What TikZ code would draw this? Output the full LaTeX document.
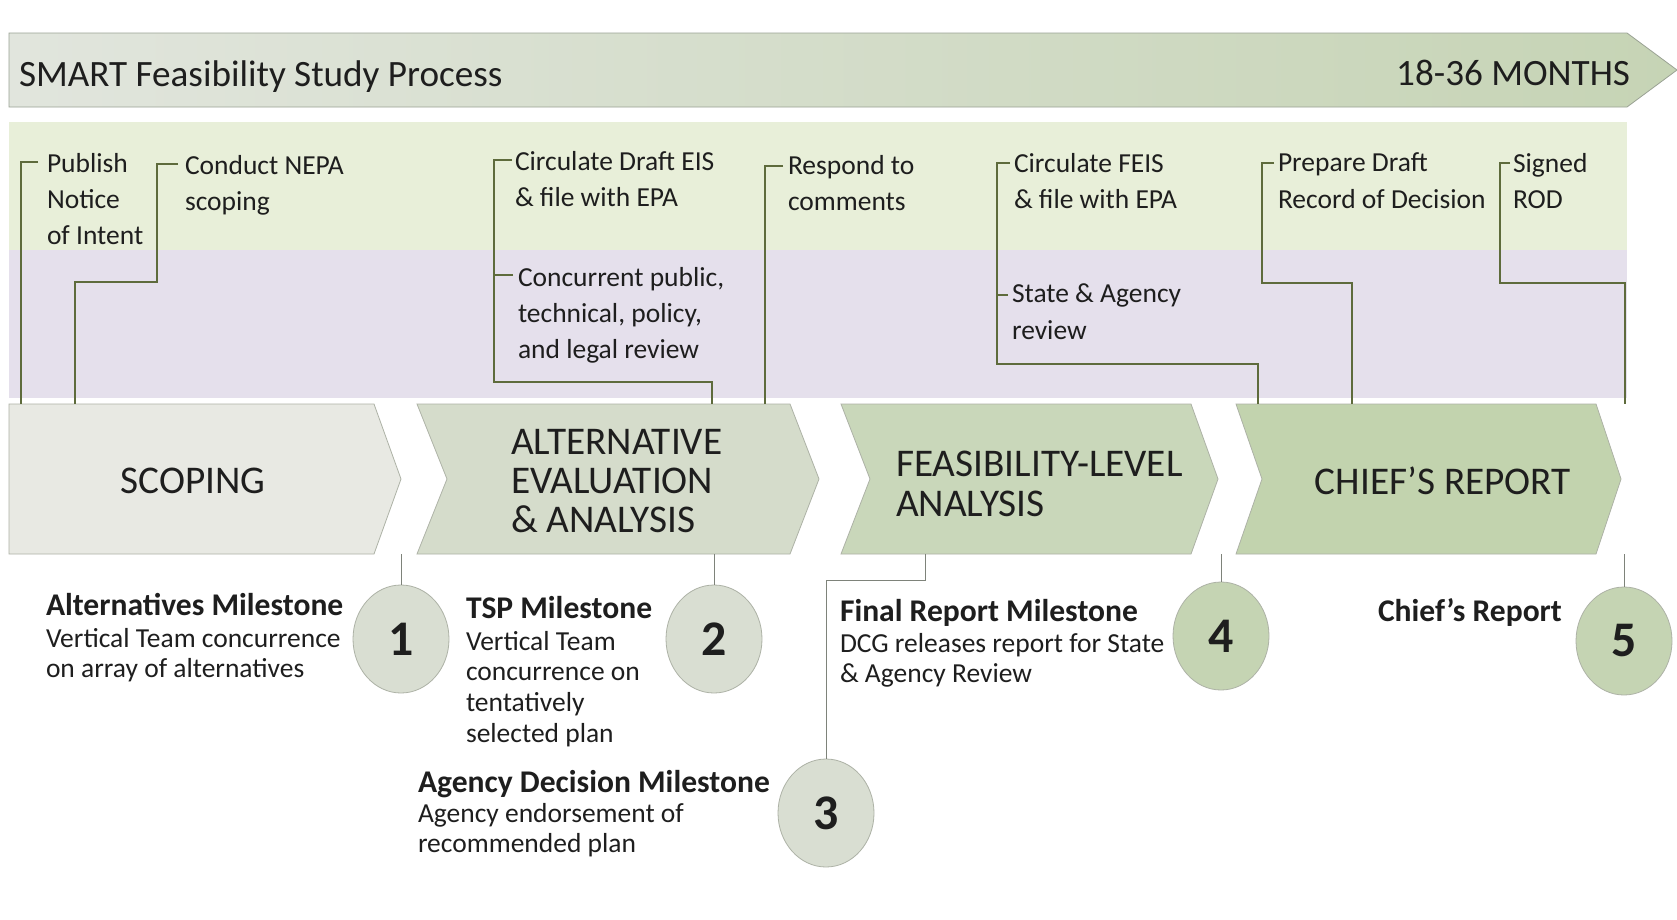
\documentclass[tikz,border=0pt]{standalone}
\usepackage{fontspec}
\setmainfont{Carlito}
\usepackage{tikz}
\usetikzlibrary{shapes.geometric}

\definecolor{bannerleft}{HTML}{E1E5DD}
\definecolor{bannerright}{HTML}{C6D4B5}
\definecolor{bannerline}{HTML}{9AA294}
\definecolor{bandgreen}{HTML}{E8EFD9}
\definecolor{bandlilac}{HTML}{E5E0EC}
\definecolor{phasegray}{HTML}{E8E9E3}
\definecolor{phasesage}{HTML}{D5DCCB}
\definecolor{phasegreen}{HTML}{C9D7BA}
\definecolor{phasedeep}{HTML}{C2D3AE}
\definecolor{phaseedge}{HTML}{ADB2A6}
\definecolor{circgray}{HTML}{D9DED2}
\definecolor{circgreen}{HTML}{C5D4B3}
\definecolor{linkolive}{HTML}{5E6B3C}
\definecolor{linkgray}{HTML}{7E837A}
\definecolor{inkdark}{HTML}{1E1E1E}

\begin{document}
\begin{tikzpicture}[x=1bp,y=-1bp,
  every node/.style={inner sep=0pt,outer sep=0pt,text=inkdark},
  lbl/.style={anchor=north west,align=left,font=\fontsize{27.6}{36.5}\selectfont},
  msbody/.style={anchor=north west,align=left,font=\fontsize{27.6}{30.5}\selectfont},
  mstitle/.style={anchor=base west,font=\fontsize{31.7}{34}\selectfont\bfseries},
  phasetext/.style={align=left,font=\fontsize{39.4}{39.5}\selectfont},
  phase/.style={draw=phaseedge,line width=0.8bp},
  milestone/.style={draw=phaseedge,line width=0.8bp,shape=ellipse,
    minimum width=96bp,minimum height=108bp,font=\fontsize{50}{50}\selectfont\bfseries},
  link/.style={draw=linkolive,line width=1.3bp},
  drop/.style={draw=linkgray,line width=1bp}]

  \useasboundingbox (0,0) rectangle (1677,919);
  \fill[white] (0,0) rectangle (1677,919);

  % Banner across the top
  \draw[left color=bannerleft,right color=bannerright,draw=bannerline,line width=0.8bp]
    (9,33) -- (1627,33) -- (1677,70) -- (1627,107) -- (9,107) -- cycle;
  \node[anchor=base west,font=\fontsize{37.3}{40}\selectfont] (title) at (19,86) {SMART Feasibility Study Process};
  \node[anchor=base east,font=\fontsize{37.3}{40}\selectfont] (months) at (1630,85) {18-36 MONTHS};

  % Two activity bands
  \fill[bandgreen] (9,122) rectangle (1627,250);
  \fill[bandlilac] (9,250) rectangle (1627,398);

  % Phase chevrons
  \filldraw[phase,fill=phasegray]  (9,404) -- (374,404) -- (401,479) -- (374,554) -- (9,554) -- cycle;
  \filldraw[phase,fill=phasesage]  (417,404) -- (790,404) -- (819,479) -- (790,554) -- (417,554) -- (447,479) -- cycle;
  \filldraw[phase,fill=phasegreen] (841,404) -- (1191,404) -- (1218,479) -- (1191,554) -- (841,554) -- (870,479) -- cycle;
  \filldraw[phase,fill=phasedeep]  (1236,404) -- (1596,404) -- (1621,479) -- (1596,554) -- (1236,554) -- (1262,479) -- cycle;

  \node[phasetext] (scoping) at (193,481) {SCOPING};
  \node[phasetext,anchor=west] (altern) at (511,481) {ALTERNATIVE\\EVALUATION\\\& ANALYSIS};
  \node[phasetext,anchor=west] (feasib) at (896,484) {FEASIBILITY-LEVEL\\ANALYSIS};
  \node[phasetext] (chief) at (1443,481) {CHIEF’S REPORT};

  % Activities in the bands
  \node[lbl] (notice) at (47,153) {Publish\\Notice\\of Intent};
  \node[lbl] (nepa) at (185,155) {Conduct NEPA\\scoping};
  \node[lbl] (deis) at (515,151) {Circulate Draft EIS\\\& file with EPA};
  \node[lbl] (review) at (518,267) {Concurrent public,\\technical, policy,\\and legal review};
  \node[lbl] (respond) at (788,155) {Respond to\\comments};
  \node[lbl] (feis) at (1014,153) {Circulate FEIS\\\& file with EPA};
  \node[lbl] (state) at (1012,284) {State \& Agency\\review};
  \node[lbl] (draftrod) at (1278,153) {Prepare Draft\\Record of Decision};
  \node[lbl] (signed) at (1513,153) {Signed\\ROD};

  % Tick ends beside the activities and feet on the chevrons
  \coordinate (notice-t) at (38,162);
  \coordinate (nepa-t) at (178,164);
  \coordinate (deis-t) at (512,160);
  \coordinate (review-t) at (513,275);
  \coordinate (respond-t) at (783,166);
  \coordinate (feis-t) at (1010,163);
  \coordinate (state-t) at (1008,295);
  \coordinate (draftrod-t) at (1274,163);
  \coordinate (signed-t) at (1510,163);

  \coordinate (notice-f) at (21,404);
  \coordinate (nepa-f) at (75,404);
  \coordinate (deis-f) at (712,404);
  \coordinate (respond-f) at (765,404);
  \coordinate (feis-f) at (1258,404);
  \coordinate (draftrod-f) at (1352,404);
  \coordinate (signed-f) at (1625,404);

  \begin{scope}[link]
    \draw (notice-t) -| (notice-f);
    \draw (nepa-t) -| (157,282) -| (nepa-f);
    \draw (deis-t) -| (494,382) -| (deis-f);
    \draw (review-t) -- (494,275);
    \draw (respond-t) -| (respond-f);
    \draw (feis-t) -| (997,364) -| (feis-f);
    \draw (state-t) -- (997,295);
    \draw (draftrod-t) -| (1262,283) -| (draftrod-f);
    \draw (signed-t) -| (1500,283) -| (signed-f);
  \end{scope}

  % Milestones
  \node[milestone,fill=circgray] (m1) at (401,639) {1};
  \node[milestone,fill=circgray] (m2) at (714,639) {2};
  \node[milestone,fill=circgray] (m3) at (826,813) {3};
  \node[milestone,fill=circgreen] (m4) at (1221,636) {4};
  \node[milestone,fill=circgreen] (m5) at (1624,641) {5};

  \coordinate (m1-s) at (401,554);
  \coordinate (m2-s) at (714,554);
  \coordinate (m3-s) at (925,554);
  \coordinate (m4-s) at (1221,554);
  \coordinate (m5-s) at (1624,554);

  \begin{scope}[drop]
    \draw (m1-s) -- (m1.north);
    \draw (m2-s) -- (m2.north);
    \draw (m3-s) |- (826,580) -- (m3.north);
    \draw (m4-s) -- (m4.north);
    \draw (m5-s) -- (m5.north);
  \end{scope}

  \node[mstitle] (alt-ms) at (46,615) {Alternatives Milestone};
  \node[msbody] (alt-txt) at (46,628) {Vertical Team concurrence\\on array of alternatives};
  \node[mstitle] (tsp-ms) at (466,618) {TSP Milestone};
  \node[msbody,font=\fontsize{27.6}{31}\selectfont] (tsp-txt) at (466,631) {Vertical Team\\concurrence on\\tentatively\\selected plan};
  \node[mstitle] (adm-ms) at (418,792) {Agency Decision Milestone};
  \node[msbody,font=\fontsize{27.6}{31}\selectfont] (adm-txt) at (418,803) {Agency endorsement of\\recommended plan};
  \node[mstitle] (frm-ms) at (840,621) {Final Report Milestone};
  \node[msbody] (frm-txt) at (840,633) {DCG releases report for State\\\& Agency Review};
  \node[mstitle] (chief-ms) at (1378,621) {Chief’s Report};

\end{tikzpicture}
\end{document}
